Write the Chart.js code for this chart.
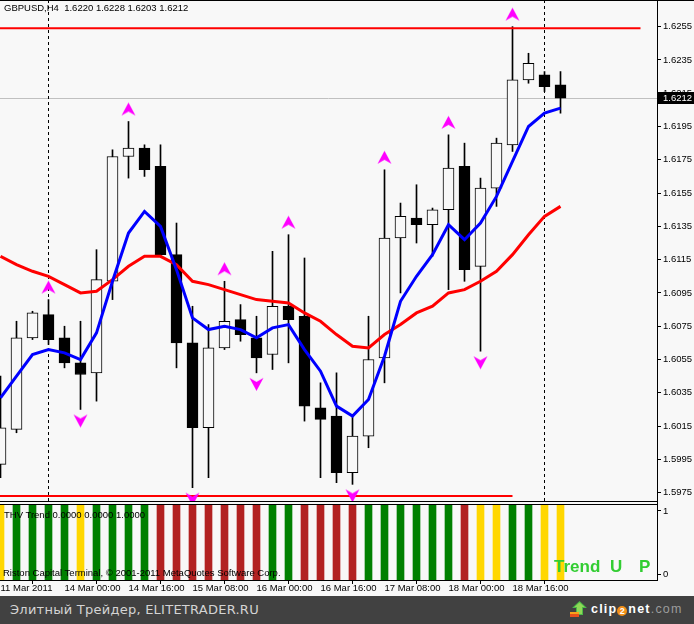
<!DOCTYPE html>
<html>
<head>
<meta charset="utf-8">
<script src="https://cdn.jsdelivr.net/npm/chart.js@4.4.1/dist/chart.umd.min.js"></script>
<style>
  html, body { margin: 0; padding: 0; background: #F8F8F8; }
  #wrap { position: relative; width: 694px; height: 624px; overflow: hidden; background: #F8F8F8; }
  canvas { position: absolute; left: 0; }
  #c1 { top: 0; }
  #c2 { top: 502px; }
  .txt { position: absolute; white-space: pre; font-family: 'Liberation Sans', Arial, sans-serif; font-size: 9.5px; line-height: 9.5px; color: #000; }
  .trend { position: absolute; font-family: 'Liberation Sans', Arial, sans-serif; font-weight: bold; font-size: 17px; line-height: 17px; color: #32CD32; top: 558px; }
  #footer { position: absolute; left: 0; top: 596px; width: 694px; height: 28px; background: #414141; }
  #ft { position: absolute; left: 10px; top: 7px; font-family: 'DejaVu Sans', sans-serif; font-size: 13px; line-height: 13px; letter-spacing: 0.25px; color: #D4D4D4; white-space: pre; }
  #logo { position: absolute; left: 570px; top: 5px; height: 17px; }
  #logoText { position: absolute; left: 591px; top: 6px; font-family: 'Liberation Sans', Arial, sans-serif; font-size: 12.5px; line-height: 14px; letter-spacing: 1.2px; white-space: pre; }
  #logoText b { color: #FFFFFF; }
  #logoText .two { display: inline-block; width: 10px; height: 10px; border-radius: 50%; background: #F39019; color: #fff; font-size: 9px; line-height: 10px; text-align: center; letter-spacing: 0; font-weight: bold; vertical-align: -1px; margin: 0 1px 0 0; }
  #logoText .com { color: #9C9C9C; }
</style>
</head>
<body>
<div id="wrap">
  <canvas id="c1" width="694" height="502"></canvas>
  <canvas id="c2" width="694" height="94"></canvas>
  <div class="txt" style="left:4px; top:3px;">GBPUSD,H4  1.6220 1.6228 1.6203 1.6212</div>
  <div class="txt" style="left:4px; top:509.5px;">THV Trend 0.0000 0.0000 1.0000</div>
  <div class="txt" style="left:3px; top:567.5px;">Riston Capital Terminal, © 2001-2011 MetaQuotes Software Corp.</div>
  <span class="trend" style="left:554px;">Trend</span>
  <span class="trend" style="left:610px;">U</span>
  <span class="trend" style="left:639px;">P</span>
  <div id="footer">
    <div id="ft">Элитный Трейдер, ELITETRADER.RU</div>
    <svg id="logo" width="17" height="17" viewBox="0 0 17 17">
      <polygon points="9.5,0 17,7 13,7 13,14 6,14 6,7 2,7" fill="#4CB848"/>
      <polygon points="9.5,1.5 14.5,6 12,6 12,13 7,13 7,6 4.5,6" fill="#8ED857"/>
      <rect x="0" y="11" width="9" height="5" fill="#E8501C"/>
      <rect x="0" y="11" width="9" height="2" fill="#F7A21B"/>
    </svg>
    <div id="logoText"><b>clip</b><span class="two">2</span><b>net</b><span class="com">.com</span></div>
  </div>
</div>
<script>
// ---------------- DATA ----------------
const opens  = [1.5992,1.6013,1.6068,1.6082,1.6068,1.6053,1.6047,1.6102,1.6177,1.6182,1.6171,1.6118,1.6065,1.6014,1.6062,1.6079,1.6068,1.6058,1.6087,1.6081,1.6026,1.6021,1.5987,1.6009,1.6056,1.6128,1.6140,1.6136,1.6145,1.6171,1.6111,1.6158,1.6184,1.6223,1.6226,1.6220];
const highs  = [1.6045,1.6078,1.6084,1.6091,1.6075,1.6078,1.6121,1.6181,1.6198,1.6184,1.6184,1.6137,1.6087,1.6076,1.6102,1.6088,1.6081,1.6120,1.6130,1.6116,1.6041,1.6047,1.6022,1.6081,1.6169,1.6149,1.6160,1.6146,1.6190,1.6185,1.6164,1.6188,1.6255,1.6239,1.6228,1.6228];
const lows   = [1.5984,1.6011,1.6067,1.6064,1.6050,1.6025,1.6030,1.6091,1.6164,1.6165,1.6117,1.6050,1.5978,1.5984,1.6061,1.6066,1.6047,1.6049,1.6053,1.6018,1.5984,1.5981,1.5980,1.6002,1.6041,1.6095,1.6125,1.6117,1.6097,1.6102,1.6060,1.6147,1.6180,1.6221,1.6216,1.6203];
const closes = [1.6014,1.6068,1.6083,1.6067,1.6053,1.6046,1.6103,1.6177,1.6182,1.6169,1.6118,1.6065,1.6014,1.6062,1.6078,1.6070,1.6056,1.6087,1.6079,1.6027,1.6019,1.5987,1.6009,1.6055,1.6128,1.6141,1.6136,1.6145,1.6170,1.6109,1.6158,1.6185,1.6223,1.6233,1.6219,1.6212];

const maFast = [1.6032,1.6045,1.6058,1.6061,1.6059,1.6055,1.6071,1.6102,1.6131,1.6144,1.6135,1.6109,1.6080,1.6073,1.6075,1.6073,1.6068,1.6074,1.6076,1.6061,1.6048,1.6027,1.6021,1.6031,1.6057,1.6090,1.6105,1.6118,1.6136,1.6127,1.6137,1.6153,1.6174,1.6195,1.6203,1.6206];
const maSlow = [1.6117,1.6112,1.6108,1.6105,1.6100,1.6095,1.6096,1.6103,1.6111,1.6117,1.6117,1.6112,1.6102,1.6100,1.6097,1.6094,1.6091,1.6090,1.6089,1.6083,1.6078,1.6070,1.6063,1.6062,1.6070,1.6076,1.6083,1.6087,1.6095,1.6097,1.6102,1.6108,1.6118,1.6130,1.6141,1.6147];

const fractalUpIdx   = [3, 8, 14, 18, 24, 28, 32];
const fractalDownIdx = [5, 12, 16, 22, 30];

// horizontal level lines: price, from bar, to bar
const levelPrices = [1.6254, 1.5973];
const levelFrom   = [-2, -2];
const levelTo     = [40, 32];

const bidPrice = 1.6212;
const separatorIdx = [3, 34];

// THV Trend states: G = up (green), R = down (red), Y = flat (yellow)
const thvState = ['Y','G','G','G','G','Y','G','G','G','G','R','R','R','R','R','R','R','G','G','R','R','R','R','G','G','G','G','G','G','R','Y','Y','G','G','Y','Y'];

const priceTicks = [1.5975,1.5995,1.6015,1.6035,1.6055,1.6075,1.6095,1.6115,1.6135,1.6155,1.6175,1.6195,1.6215,1.6235,1.6255];
const timeTickIdx = [0, 4, 8, 12, 16, 20, 24, 28, 32];
const timeLabels  = ['11 Mar 2011','14 Mar 00:00','14 Mar 16:00','15 Mar 08:00','16 Mar 00:00','16 Mar 16:00','17 Mar 08:00','18 Mar 00:00','18 Mar 16:00'];
const thvTicks = [0, 1];

// ---------------- STYLE / LAYOUT ----------------
const BG = '#F8F8F8';
const FONT_FAMILY = "'Liberation Sans', Arial, sans-serif";
const FONT_SIZE = 9.5;
const X_MIN = -0.03125, X_MAX = 41.03125;
const Y_MIN = 1.5970, Y_MAX = 1.6271;
const T_MIN = -0.095, T_MAX = 1.095;
const THV_COLORS = { G: '#008000', R: '#B22222', Y: '#FFD700' };

Chart.defaults.font.family = FONT_FAMILY;
Chart.defaults.font.size = FONT_SIZE;

function makeArrow(up) {
  const c = document.createElement('canvas');
  c.width = 15; c.height = 40;
  const g = c.getContext('2d');
  g.fillStyle = '#FF00FF';
  g.beginPath();
  if (up) { g.moveTo(7.5, 1); g.lineTo(14.5, 14); g.lineTo(7.5, 10); g.lineTo(0.5, 14); }
  else    { g.moveTo(7.5, 38); g.lineTo(14.5, 25); g.lineTo(7.5, 29); g.lineTo(0.5, 25); }
  g.closePath();
  g.fill();
  return c;
}
const upArrow = makeArrow(true);
const downArrow = makeArrow(false);

const idx = opens.map((_, i) => i);

const mainOverlay = {
  id: 'mainOverlay',
  beforeDatasetsDraw(chart) {
    const ctx = chart.ctx, a = chart.chartArea;
    const xs = chart.scales.x, ys = chart.scales.y;
    ctx.save();
    const by = Math.round(ys.getPixelForValue(bidPrice)) + 0.5;
    ctx.strokeStyle = '#C0C0C0'; ctx.lineWidth = 1;
    ctx.beginPath(); ctx.moveTo(a.left, by); ctx.lineTo(a.right, by); ctx.stroke();
    ctx.strokeStyle = '#000'; ctx.setLineDash([3, 3]);
    separatorIdx.forEach(i => {
      const x = Math.floor(xs.getPixelForValue(i)) + 0.5;
      ctx.beginPath(); ctx.moveTo(x, a.top); ctx.lineTo(x, a.bottom); ctx.stroke();
    });
    ctx.restore();
  },
  afterDraw(chart) {
    const ctx = chart.ctx, a = chart.chartArea, ys = chart.scales.y;
    ctx.save();
    ctx.strokeStyle = '#000'; ctx.lineWidth = 1;
    ctx.beginPath(); ctx.moveTo(0, 0.5); ctx.lineTo(chart.width, 0.5); ctx.stroke();
    ctx.beginPath(); ctx.moveTo(0, a.bottom + 0.5); ctx.lineTo(a.right + 1, a.bottom + 0.5); ctx.stroke();
    ctx.beginPath(); ctx.moveTo(a.right + 0.5, a.bottom); ctx.lineTo(a.right + 0.5, chart.height); ctx.stroke();
    const y = ys.getPixelForValue(bidPrice);
    const yt = Math.round(y - 6);
    ctx.fillStyle = '#000';
    ctx.fillRect(a.right + 1, yt, chart.width - a.right - 1, 12);
    ctx.fillStyle = '#FFF';
    ctx.font = FONT_SIZE + 'px ' + FONT_FAMILY;
    ctx.textBaseline = 'middle'; ctx.textAlign = 'left';
    ctx.fillText(bidPrice.toFixed(4), a.right + 6, yt + 6.5);
    ctx.restore();
  }
};

new Chart(document.getElementById('c1'), {
  type: 'bar',
  data: {
    datasets: [
      { type: 'line', data: idx.map(i => ({ x: i, y: maFast[i] })), borderColor: '#0000FF', borderWidth: 3, pointRadius: 0, pointHoverRadius: 0, tension: 0, order: 1 },
      { type: 'line', data: idx.map(i => ({ x: i, y: maSlow[i] })), borderColor: '#FF0000', borderWidth: 3, pointRadius: 0, pointHoverRadius: 0, tension: 0, order: 2 },
      { type: 'line', showLine: false, data: fractalUpIdx.map(i => ({ x: i, y: highs[i] })), pointStyle: upArrow, pointRadius: 3, order: 3 },
      { type: 'line', showLine: false, data: fractalDownIdx.map(i => ({ x: i, y: lows[i] })), pointStyle: downArrow, pointRadius: 3, order: 3 },
      ...levelPrices.map((p, k) => ({ type: 'line', data: [{ x: levelFrom[k], y: p }, { x: levelTo[k], y: p }], borderColor: '#FF0000', borderWidth: 2, pointRadius: 0, pointHoverRadius: 0, order: 4 })),
      { type: 'bar', data: idx.map(i => ({ x: i, y: [opens[i], closes[i]] })),
        backgroundColor: idx.map(i => closes[i] >= opens[i] ? BG : '#000'),
        borderColor: '#000', borderWidth: 1, borderSkipped: false, barThickness: 11, grouped: false, order: 5 },
      { type: 'bar', data: idx.map(i => ({ x: i, y: [lows[i], highs[i]] })),
        backgroundColor: '#000', borderWidth: 0, barThickness: 1, grouped: false, order: 6 }
    ]
  },
  options: {
    responsive: false, animation: false, devicePixelRatio: 1, events: [],
    layout: { autoPadding: false, padding: { top: 0, left: 0, right: 0, bottom: 1 } },
    plugins: { legend: { display: false }, tooltip: { enabled: false } },
    scales: {
      x: { type: 'linear', min: X_MIN, max: X_MAX, display: false, offset: false },
      y: {
        type: 'linear', position: 'right', min: Y_MIN, max: Y_MAX,
        afterBuildTicks: s => { s.ticks = priceTicks.map(v => ({ value: v })); },
        afterFit: s => { s.width = 37; s.paddingTop = 0; s.paddingBottom = 0; },
        ticks: { callback: v => Number(v).toFixed(4), color: '#000', padding: 2, autoSkip: false, font: { size: FONT_SIZE, lineHeight: 1 } },
        grid: { drawOnChartArea: false, drawTicks: true, tickLength: 4, color: '#000' },
        border: { display: true, color: '#000' }
      }
    }
  },
  plugins: [mainOverlay]
});

const subOverlay = {
  id: 'subOverlay',
  afterDraw(chart) {
    const ctx = chart.ctx, a = chart.chartArea;
    ctx.save();
    ctx.strokeStyle = '#000'; ctx.lineWidth = 1;
    ctx.beginPath(); ctx.moveTo(0, a.top - 0.5); ctx.lineTo(a.right + 1, a.top - 0.5); ctx.stroke();
    ctx.beginPath(); ctx.moveTo(a.right + 0.5, 0); ctx.lineTo(a.right + 0.5, a.top); ctx.stroke();
    ctx.restore();
  }
};

new Chart(document.getElementById('c2'), {
  type: 'bar',
  data: {
    datasets: [
      { data: idx.map(i => ({ x: i, y: [T_MIN, T_MAX] })),
        backgroundColor: thvState.map(s => THV_COLORS[s]),
        borderWidth: 0, barThickness: 7, grouped: false }
    ]
  },
  options: {
    responsive: false, animation: false, devicePixelRatio: 1, events: [],
    layout: { autoPadding: false, padding: { top: 3, left: 0, right: 0, bottom: 0 } },
    plugins: { legend: { display: false }, tooltip: { enabled: false } },
    scales: {
      x: {
        type: 'linear', min: X_MIN, max: X_MAX, offset: false, position: 'bottom',
        afterBuildTicks: s => { s.ticks = timeTickIdx.map(v => ({ value: v })); },
        afterFit: s => { s.height = 16; s.paddingLeft = 0; s.paddingRight = 0; },
        ticks: { callback: (v, i) => timeLabels[i], align: 'start', maxRotation: 0, minRotation: 0, autoSkip: false, padding: 0, color: '#000', font: { size: FONT_SIZE, lineHeight: 1 } },
        grid: { drawOnChartArea: false, drawTicks: true, tickLength: 4, color: '#000' },
        border: { display: true, color: '#000' }
      },
      y: {
        type: 'linear', position: 'right', min: T_MIN, max: T_MAX,
        afterBuildTicks: s => { s.ticks = thvTicks.map(v => ({ value: v })); },
        afterFit: s => { s.width = 37; s.paddingTop = 0; s.paddingBottom = 0; },
        ticks: { callback: v => String(v), color: '#000', padding: 2, autoSkip: false, font: { size: FONT_SIZE, lineHeight: 1 } },
        grid: { drawOnChartArea: false, drawTicks: true, tickLength: 4, color: '#000' },
        border: { display: true, color: '#000' }
      }
    }
  },
  plugins: [subOverlay]
});
</script>
</body>
</html>
